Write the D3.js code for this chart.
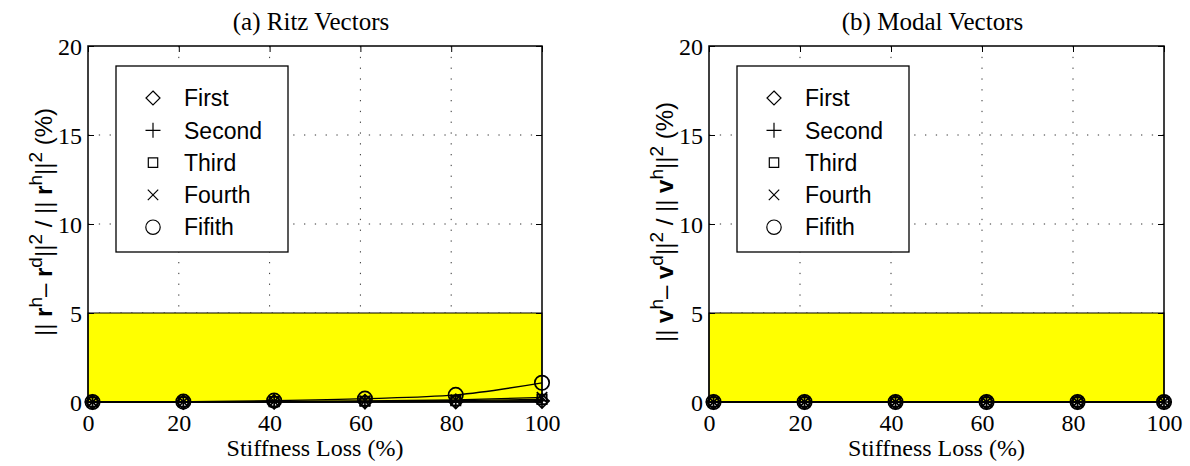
<!DOCTYPE html>
<html>
<head>
<meta charset="utf-8">
<script src="https://cdn.jsdelivr.net/npm/d3@7"></script>
<style>
  body { margin: 0; background: #fff; }
  svg { display: block; }
</style>
</head>
<body>
<div class="chart"></div>
<script>
var svgWidth = 1190;
var svgHeight = 466;

// stiffness loss levels (%)
var loss = [1, 21, 41, 61, 81, 100];
var seriesNames = ["First", "Second", "Third", "Fourth", "Fifith"];
var markerTypes = ["diamond", "plus", "square", "cross", "circle"];

// (a) Ritz vectors, error in %
var ritzFirst  = [0, 0.00, 0.01, 0.02, 0.03, 0.05];
var ritzSecond = [0, 0.00, 0.01, 0.02, 0.04, 0.07];
var ritzThird  = [0, 0.01, 0.02, 0.04, 0.08, 0.15];
var ritzFourth = [0, 0.01, 0.03, 0.06, 0.12, 0.26];
var ritzFifth  = [0, 0.02, 0.08, 0.19, 0.40, 1.08];

// (b) modal vectors, error in %
var modalFirst  = [0, 0, 0, 0, 0, 0];
var modalSecond = [0, 0, 0, 0, 0, 0];
var modalThird  = [0, 0, 0, 0, 0, 0];
var modalFourth = [0, 0, 0, 0, 0, 0];
var modalFifth  = [0, 0, 0, 0, 0, 0];

var xTicks = [0, 20, 40, 60, 80, 100];
var yTicks = [0, 5, 10, 15, 20];
var threshold = 5;

var serif = "'Liberation Serif', 'Times New Roman', serif";
var sans = "'Liberation Sans', Arial, sans-serif";

var svg = d3.select(".chart").append("svg")
  .attr("width", svgWidth)
  .attr("height", svgHeight);

// matlab-like open markers
function markerPath(type) {
  if (type === "diamond") { var s = 7; return "M0," + (-s) + "L" + s + ",0L0," + s + "L" + (-s) + ",0Z"; }
  if (type === "plus") { var p = 7.5; return "M" + (-p) + ",0H" + p + "M0," + (-p) + "V" + p; }
  if (type === "square") { var q = 4.7; return "M" + (-q) + "," + (-q) + "h" + (2 * q) + "v" + (2 * q) + "h" + (-2 * q) + "Z"; }
  if (type === "cross") { var c = 5.2; return "M" + (-c) + "," + (-c) + "L" + c + "," + c + "M" + (-c) + "," + c + "L" + c + "," + (-c); }
  var r = 7.2;
  return "M" + r + ",0A" + r + "," + r + " 0 1,1 " + (-r) + ",0A" + r + "," + r + " 0 1,1 " + r + ",0Z";
}

function drawPanel(left, right, title, series, letter) {
  var top = 46, bottom = 402;
  var x = d3.scaleLinear().domain([0, 100]).range([left, right]);
  var y = d3.scaleLinear().domain([0, 20]).range([bottom, top]);
  var g = svg.append("g");

  // dotted grid
  g.selectAll(".vgrid").data(xTicks.slice(1, -1)).enter().append("line")
    .attr("x1", function(d) { return x(d); }).attr("x2", function(d) { return x(d); })
    .attr("y1", top).attr("y2", bottom)
    .attr("stroke", "#333").attr("stroke-width", 1).attr("stroke-dasharray", "1.3,9.5");
  g.selectAll(".hgrid").data(yTicks.slice(1, -1)).enter().append("line")
    .attr("y1", function(d) { return y(d); }).attr("y2", function(d) { return y(d); })
    .attr("x1", left).attr("x2", right)
    .attr("stroke", "#333").attr("stroke-width", 1).attr("stroke-dasharray", "1.3,9.5");

  // threshold band
  g.append("rect")
    .attr("x", x(0)).attr("y", y(threshold))
    .attr("width", x(100) - x(0)).attr("height", y(0) - y(threshold))
    .attr("fill", "#ffff00").attr("stroke", "#000").attr("stroke-width", 1);

  // axes, ticks pointing in
  g.append("g").attr("transform", "translate(0," + bottom + ")")
    .call(d3.axisBottom(x).tickValues(xTicks).tickSize(-6).tickPadding(12))
    .call(function(a) { a.select(".domain").remove(); a.selectAll("text").attr("dy", "0.71em"); });
  g.append("g").attr("transform", "translate(" + left + ",0)")
    .call(d3.axisLeft(y).tickValues(yTicks).tickSize(-6).tickPadding(6))
    .call(function(a) { a.select(".domain").remove(); a.selectAll("text").attr("dy", "0.35em"); });
  g.append("g").attr("transform", "translate(0," + top + ")")
    .call(d3.axisTop(x).tickValues(xTicks).tickSize(-6).tickFormat(""))
    .call(function(a) { a.select(".domain").remove(); });
  g.append("g").attr("transform", "translate(" + right + ",0)")
    .call(d3.axisRight(y).tickValues(yTicks).tickSize(-6).tickFormat(""))
    .call(function(a) { a.select(".domain").remove(); });
  g.selectAll(".tick line").attr("stroke", "#000");
  g.selectAll(".tick text")
    .attr("font-family", serif).attr("font-size", 24).attr("fill", "#000");

  g.append("rect")
    .attr("x", left).attr("y", top).attr("width", right - left).attr("height", bottom - top)
    .attr("fill", "none").attr("stroke", "#000").attr("stroke-width", 1.5);

  // series lines and markers
  var line = d3.line()
    .x(function(d, i) { return x(loss[i]); })
    .y(function(d) { return y(d); })
    .curve(d3.curveMonotoneX);
  series.forEach(function(vals, k) {
    g.append("path").attr("d", line(vals))
      .attr("fill", "none").attr("stroke", "#000").attr("stroke-width", 1.3);
    g.selectAll(".m" + k).data(vals).enter().append("path")
      .attr("transform", function(d, i) { return "translate(" + x(loss[i]) + "," + y(d) + ")"; })
      .attr("d", markerPath(markerTypes[k]))
      .attr("fill", "none").attr("stroke", "#000").attr("stroke-width", 1.7);
  });

  // legend
  var lx = left + 28, ly = 66;
  var leg = g.append("g");
  leg.append("rect")
    .attr("x", lx).attr("y", ly).attr("width", 172).attr("height", 186)
    .attr("fill", "#fff").attr("stroke", "#000").attr("stroke-width", 1.3);
  seriesNames.forEach(function(name, k) {
    var yy = ly + 32 + k * 32.3;
    leg.append("path")
      .attr("transform", "translate(" + (lx + 37) + "," + yy + ")")
      .attr("d", markerPath(markerTypes[k]))
      .attr("fill", "none").attr("stroke", "#000").attr("stroke-width", 1.2);
    leg.append("text")
      .attr("x", lx + 68).attr("y", yy).attr("dy", "0.36em")
      .attr("font-family", sans)
      .attr("font-size", 23).text(name);
  });

  // title
  g.append("text")
    .attr("x", (left + right) / 2 - 4).attr("y", 30)
    .attr("text-anchor", "middle")
    .attr("font-family", serif)
    .attr("font-size", 25).text(title);

  // x label
  g.append("text")
    .attr("x", (left + right) / 2).attr("y", 456)
    .attr("text-anchor", "middle")
    .attr("font-family", serif)
    .attr("font-size", 24).text("Stiffness Loss (%)");

  // y label with bold vectors and superscripts
  var yl = g.append("text")
    .attr("transform", "translate(" + (left - 36) + ",222) rotate(-90)")
    .attr("text-anchor", "middle")
    .attr("font-family", sans)
    .attr("font-size", 24);
  var parts = [
    ["|| ", 0], [letter, 2], ["h", 1], ["\u2013 ", -1], [letter, 2], ["d", 1], ["||", -1], ["2", 1],
    [" / || ", -1], [letter, 2], ["h", 1], ["||", -1], ["2", 1], [" (%)", -1]
  ];
  var raised = false;
  parts.forEach(function(p) {
    var t = yl.append("tspan").text(p[0]);
    if (p[1] === 2) { t.attr("font-weight", "bold"); if (raised) { t.attr("dy", 10); raised = false; } }
    else if (p[1] === 1) { t.attr("dy", -10).attr("font-size", 19); raised = true; }
    else if (p[1] === -1 && raised) { t.attr("dy", 10); raised = false; }
  });
}

drawPanel(88, 542, "(a) Ritz Vectors",
  [ritzFirst, ritzSecond, ritzThird, ritzFourth, ritzFifth], "r");
drawPanel(709, 1164, "(b) Modal Vectors",
  [modalFirst, modalSecond, modalThird, modalFourth, modalFifth], "v");
</script>
</body>
</html>
